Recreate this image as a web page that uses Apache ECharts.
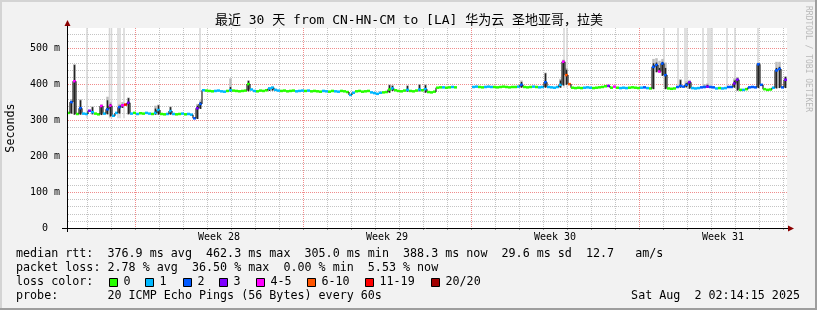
<!DOCTYPE html>
<html><head><meta charset="utf-8">
<script src="https://cdn.jsdelivr.net/npm/echarts@6/dist/echarts.min.js"></script>
<style>html,body{margin:0;padding:0;background:#f2f2f2}#c{width:817px;height:310px}</style>
</head><body><div id="c"></div>
<script>
// ---- data (hours since graph start, one sample every 3 hours) ----
const STEP_HOURS = 3;
const TOTAL_HOURS = 720;
const Y_MAX = 556;

const medianRtt = [
 320,350,408,317,333,318,317,326,322,318,
 316,339,318,330,340,312,320,336,341,343,
 348,318,320,317,319,318,320,318,317,320,
 328,317,316,317,325,317,316,317,318,316,
 317,315,305,333,345,
 383,382,381,380,381,382,380,379,381,383,
 382,381,380,381,382,400,385,381,380,382,
 381,383,388,390,384,382,381,382,380,381,
 382,380,381,382,381,382,
 380,381,380,379,381,380,379,381,380,379,
 381,380,378,370,376,380,381,379,380,381,
 377,375,373,376,377,378,385,388,383,381,
 380,382,384,381,380,382,385,383,386,
 378,377,379,390,391,391,390,391,392,391,null,null,null,null,null,
 392,393,392,391,392,393,392,392,391,392,
 393,392,391,392,392,393,398,392,391,392,
 393,392,391,392,
 405,392,391,390,392,398,462,425,400,
 390,389,390,389,390,391,390,389,390,391,
 392,394,395,390,393,390,389,390,389,390,
 391,390,389,390,391,389,388,
 448,453,435,457,425,
 388,387,388,392,395,393,398,405,389,388,
 389,391,392,393,392,391,388,389,388,389,
 392,392,402,412,384,384,386,391,392,391,
 455,398,386,384,385,390,438,442,391,412
];
// loss bucket index: 0,1,2,3,4-5,6-10,11-19,20/20
const lossClass = [
 0,2,4,0,2,1,1,3,1,0,
 0,4,1,2,4,1,1,2,4,6,
 3,1,0,1,0,0,1,1,0,1,
 1,0,0,1,1,1,0,0,1,0,
 1,1,2,3,2,
 1,0,0,0,1,1,1,1,0,1,
 0,0,0,0,0,0,1,1,0,0,
 0,0,1,1,1,1,0,0,0,0,
 0,1,1,1,0,1,
 0,0,0,0,1,1,0,0,1,1,
 0,0,0,1,1,0,0,0,0,0,
 1,1,1,1,0,0,0,1,0,0,
 0,0,1,0,0,0,1,0,1,
 0,0,0,0,0,1,0,0,1,0,0,0,0,0,0,
 1,1,0,0,1,1,1,0,0,0,
 0,0,0,0,0,1,2,0,0,0,
 1,0,1,1,
 2,1,1,1,1,1,4,5,5,
 0,0,0,0,1,1,1,0,0,0,
 0,0,3,0,4,0,1,1,1,0,
 0,0,0,1,2,1,0,
 2,2,4,2,2,
 0,0,0,2,2,2,2,3,1,1,
 1,2,2,3,2,2,1,0,1,1,
 2,2,3,3,0,1,0,2,2,2,
 2,2,0,0,0,1,2,2,2,3
];
// smoke (ping spread) where it is visible
const smokeHour     = [3,6,12,24,33,39,42,51,54,60,87,90,102,129,132,162,180,201,204,321,324,339,351,357,453,477,492,495,498,585,588,591,594,597,612,618,621,636,639,666,669,690,708,711,717];
const smokeDarkTop  = [352,453,355,336,341,355,345,340,345,361,332,341,336,340,350,392,409,388,392,397,395,395,398,397,406,430,410,465,440,458,460,445,462,445,411,403,408,395,398,410,416,457,445,448,420];
const smokeLightTop = [358,456,358,338,344,365,350,345,350,363,340,343,338,345,355,416,411,392,394,399,398,397,400,400,410,432,415,468,445,470,472,465,470,460,414,408,412,400,402,416,420,460,462,462,422];
// samples whose max ping went off the top of the graph
const tallSmokeHour   = [20,42.5,44.5,51,53,57,133,497,500,597,611,618,620,636,641,643,645,660,668,691];
const tallSmokeBottom = [305,305,305,305,305,305,380,390,390,395,390,390,390,390,390,390,390,390,390,395];

const dayLineHours  = Array.from({length:30},(_,k)=>20+24*k);
const valueLineMs   = Array.from({length:27},(_,k)=>20+20*k);
const weekStartHours = [68,236,404,572];
const weekLabels = ['Week 28','Week 29','Week 30','Week 31'];
const lossLegendLabels = ['0','1','2','3','4-5','6-10','11-19','20/20'];
const lossColors = ['#26ff00','#00b8ff','#0059ff','#7e00ff','#ff00ff','#ff5500','#ff0000','#a10000'];
const rttStats  = ['376.9','462.3','305.0','388.3','29.6','12.7'];
const lossStats = ['2.78','36.50','0.00','5.53'];

const titleText = '最近 30 天 from CN-HN-CM to [LA] 华为云 圣地亚哥，拉美';
const MONO = "'DejaVu Sans Mono','Noto Sans CJK SC',monospace";
const GRID_MINOR = '#c4c4c4';
const GRID_MAJOR = '#f08c8c';

// ---- build tables ----
const N = medianRtt.length;
const smokeIdx = {};
smokeHour.forEach((h,k)=>{ smokeIdx[h]=k; });
const rows = medianRtt.map((m,i)=>{
  const h = i*STEP_HOURS;
  const prev = i>0 ? medianRtt[i-1] : null;
  const next = i<N-1 ? medianRtt[i+1] : null;
  const k = smokeIdx[h];
  let bottom='-', dark='-', light='-';
  if (k!==undefined && m!=null){
    bottom = Math.min(...[prev,m,next].filter(v=>v!=null)) - 2;
    dark = smokeDarkTop[k]; light = smokeLightTop[k];
  }
  return [h, m==null?'-':m, lossClass[i], bottom, dark, light, prev==null?'-':prev];
});
const tallRows = tallSmokeHour.map((h,k)=>[h, tallSmokeBottom[k]]);
const vGridRows = dayLineHours.map(h=>[h, 0, weekStartHours.some(w=>(h-w)%168===0)?1:0]);
const hGridRows = valueLineMs.map(v=>[0, v, v%100===0?1:0]);

const weekMid = weekStartHours.map(h=>h+84);
const weekMap = {}; weekMid.forEach((h,k)=>weekMap[h]=weekLabels[k]);

function renderVGrid(params, api){
  const cs = params.coordSys;
  const x = Math.round(api.coord([api.value(0), 0])[0]);
  const col = api.value(2) ? GRID_MAJOR : GRID_MINOR;
  const dots = [];
  for (let y = Math.ceil(cs.y); y < cs.y + cs.height; y += 2)
    dots.push({type:'rect', shape:{x:x, y:y, width:1, height:1}, style:{fill:col}});
  return {type:'group', children:dots};
}
function renderHGrid(params, api){
  const cs = params.coordSys;
  const y = Math.round(api.coord([0, api.value(1)])[1]);
  const col = api.value(2) ? GRID_MAJOR : GRID_MINOR;
  const dots = [];
  for (let x = Math.ceil(cs.x)+1; x < cs.x + cs.width; x += 2)
    dots.push({type:'rect', shape:{x:x, y:y, width:1, height:1}, style:{fill:col}});
  return {type:'group', children:dots};
}
function renderTall(params, api){
  const h = api.value(0);
  const a = api.coord([h, api.value(1)]);
  const t = api.coord([h, Y_MAX]);
  return {type:'rect', shape:{x:a[0]-0.75, y:t[1], width:1.5, height:a[1]-t[1]}, style:{fill:'#d6d6d6'}};
}
function renderData(params, api){
  const h = api.value(0), m = api.value(1);
  if (isNaN(m)) return;
  const cls = api.value(2);
  const a = api.coord([h, m]);
  const b = api.coord([h+STEP_HOURS, m]);
  const children = [];
  const bottom = api.value(3), dark = api.value(4), light = api.value(5), prev = api.value(6);
  const cx = (a[0]+b[0])/2;
  if (!isNaN(dark)){
    const yb = api.coord([h, bottom])[1];
    const yl = api.coord([h, light])[1];
    const yd = api.coord([h, dark])[1];
    children.push({type:'rect', shape:{x:cx-1.25, y:yl, width:2.5, height:yb-yl}, style:{fill:'#bdbdbd'}});
    children.push({type:'rect', shape:{x:cx-0.75, y:yd, width:1.5, height:yb-yd}, style:{fill:'#222'}});
  }
  if (!isNaN(prev) && Math.abs(prev-m)>4){
    const yp = api.coord([h, prev])[1];
    children.push({type:'line', shape:{x1:a[0], y1:yp, x2:a[0], y2:a[1]}, style:{stroke:'#222', lineWidth:1.2}});
  }
  children.push({type:'rect', shape:{x:a[0], y:a[1]-1.25, width:b[0]-a[0], height:2.5}, style:{fill:lossColors[cls]}});
  return {type:'group', children};
}

// ---- graphic (title, legend, frame) ----
function txt(x,y,text,opt){
  opt = opt||{};
  return {type:'text', x, y, rotation: opt.rot||0, z:100, silent:true,
    style:{text, font: opt.font || ('11.7px '+MONO), fill: opt.fill||'#000',
      align: opt.align||'left', textAlign: opt.align||'left', verticalAlign:'middle', textVerticalAlign:'middle'}};
}
const graphics = [];
graphics.push({type:'rect', z:-10, silent:true, shape:{x:67,y:28,width:720,height:200}, style:{fill:'#ffffff'}});
graphics.push({type:'rect', shape:{x:0,y:0,width:817,height:2}, style:{fill:'#d4d4d4'}, silent:true});
graphics.push({type:'rect', shape:{x:0,y:0,width:2,height:310}, style:{fill:'#d4d4d4'}, silent:true});
graphics.push({type:'rect', shape:{x:0,y:308,width:817,height:2}, style:{fill:'#9e9e9e'}, silent:true});
graphics.push({type:'rect', shape:{x:815,y:0,width:2,height:310}, style:{fill:'#9e9e9e'}, silent:true});
graphics.push(txt(409, 21, titleText, {font:'13px '+MONO, align:'center'}));
graphics.push(txt(808, 59, 'RRDTOOL / TOBI OETIKER', {font:'8px '+MONO, fill:'#b9b9b9', align:'center', rot:-Math.PI/2}));
graphics.push(txt(16, 254, 'median rtt:  '+rttStats[0]+' ms avg  '+rttStats[1]+' ms max  '+rttStats[2]+' ms min  '+rttStats[3]+' ms now  '+rttStats[4]+' ms sd  '+rttStats[5]+'   am/s'));
graphics.push(txt(16, 268, 'packet loss: '+lossStats[0]+' % avg  '+lossStats[1]+' % max  '+lossStats[2]+' % min  '+lossStats[3]+' % now'));
graphics.push(txt(16, 282, 'loss color:'));
graphics.push(txt(16, 296, 'probe:       20 ICMP Echo Pings (56 Bytes) every 60s'));
graphics.push(txt(800, 296, 'Sat Aug  2 02:14:15 2025', {align:'right'}));
const legendBoxX = [109,145,183,219,256,307,365,431];
lossLegendLabels.forEach((lab,k)=>{
  graphics.push({type:'rect', z:100, silent:true, shape:{x:legendBoxX[k]+0.5, y:278.5, width:8, height:8}, style:{fill:lossColors[k], stroke:'#000', lineWidth:1}});
  graphics.push(txt(legendBoxX[k]+14.5, 282, lab));
});
graphics.push({type:'line', z:100, silent:true, shape:{x1:62, y1:228.5, x2:789, y2:228.5}, style:{stroke:'#000', lineWidth:1}});
graphics.push({type:'line', z:100, silent:true, shape:{x1:67.5, y1:232, x2:67.5, y2:24}, style:{stroke:'#000', lineWidth:1}});
graphics.push({type:'polygon', z:101, silent:true, shape:{points:[[788,225.5],[794,228.5],[788,231.5]]}, style:{fill:'#8b0000'}});
graphics.push({type:'polygon', z:101, silent:true, shape:{points:[[64.5,26],[67.5,20],[70.5,26]]}, style:{fill:'#8b0000'}});

const chart = echarts.init(document.getElementById('c'), null, {renderer:'canvas', width:817, height:310});
chart.setOption({
  backgroundColor:'#f2f2f2',
  animation:false,
  grid:{left:67, right:30, top:28, bottom:82, show:false, containLabel:false, outerBoundsMode:'none'},
  xAxis:{type:'value', min:0, max:TOTAL_HOURS,
    axisLine:{show:false},
    axisTick:{show:true, customValues:dayLineHours, length:2, lineStyle:{color:'#999'}},
    axisLabel:{customValues:weekMid, formatter:v=>weekMap[v]||'', fontFamily:MONO, fontSize:10, color:'#000', margin:4},
    splitLine:{show:false}},
  yAxis:{type:'value', min:0, max:Y_MAX, interval:100,
    name:'Seconds', nameLocation:'middle', nameGap:50, nameRotate:90,
    nameTextStyle:{fontFamily:MONO, fontSize:11.7, color:'#000'},
    axisLine:{show:false}, axisTick:{show:false},
    axisLabel:{formatter:v=>v===0?'0  ':(v%100===0?v+' m':''), fontFamily:MONO, fontSize:10, color:'#000', margin:7, showMaxLabel:false},
    splitLine:{show:false}},
  series:[
    {type:'custom', name:'hgrid', data:hGridRows, renderItem:renderHGrid, clip:false, silent:true, z:1},
    {type:'custom', name:'vgrid', data:vGridRows, renderItem:renderVGrid, clip:false, silent:true, z:1},
    {type:'custom', name:'tall', data:tallRows, renderItem:renderTall, clip:true, silent:true, z:2},
    {type:'custom', name:'median', data:rows, renderItem:renderData, clip:true, silent:true, z:3}
  ],
  graphic:graphics
});
</script></body></html>
